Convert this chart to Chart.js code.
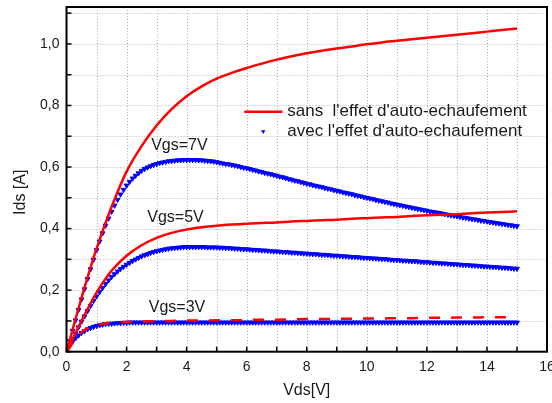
<!DOCTYPE html>
<html>
<head>
<meta charset="utf-8">
<script src="https://cdn.jsdelivr.net/npm/chart.js@4"></script>
<style>
  body { margin: 0; background: #fff; }
</style>
</head>
<body>
<canvas id="idsChart" width="552" height="403"></canvas>
<script>
// blue points (avec) every 0.1 V, red curves (sans) every 0.5 V
const avecStep = 0.1;
const sansStep = 0.5;

const avec7 = [
  0.000, 0.034, 0.068, 0.102, 0.136, 0.170, 0.203, 0.236, 0.268, 0.299,
  0.330, 0.358, 0.385, 0.410, 0.433, 0.455, 0.475, 0.494, 0.511, 0.526,
  0.540, 0.552, 0.563, 0.572, 0.580, 0.588, 0.594, 0.599, 0.603, 0.607,
  0.610, 0.613, 0.615, 0.617, 0.619, 0.620, 0.621, 0.622, 0.622, 0.623,
  0.623, 0.623, 0.623, 0.623, 0.622, 0.622, 0.621, 0.620, 0.619, 0.618,
  0.616, 0.614, 0.612, 0.610, 0.609, 0.607, 0.605, 0.603, 0.600, 0.598,
  0.596, 0.594, 0.591, 0.589, 0.586, 0.584, 0.581, 0.579, 0.577, 0.574,
  0.572, 0.569, 0.567, 0.564, 0.561, 0.559, 0.556, 0.554, 0.551, 0.549,
  0.546, 0.544, 0.541, 0.539, 0.537, 0.535, 0.532, 0.530, 0.528, 0.525,
  0.523, 0.521, 0.518, 0.516, 0.514, 0.512, 0.509, 0.507, 0.505, 0.502,
  0.500, 0.498, 0.496, 0.493, 0.491, 0.489, 0.487, 0.485, 0.482, 0.480,
  0.478, 0.476, 0.474, 0.472, 0.470, 0.468, 0.466, 0.464, 0.462, 0.460,
  0.458, 0.456, 0.454, 0.453, 0.451, 0.449, 0.447, 0.445, 0.443, 0.442,
  0.440, 0.438, 0.436, 0.435, 0.433, 0.431, 0.430, 0.428, 0.426, 0.425,
  0.423, 0.421, 0.420, 0.418, 0.417, 0.415, 0.414, 0.412, 0.411, 0.409,
  0.408
];

const avec5 = [
  0.000, 0.020, 0.040, 0.059, 0.079, 0.098, 0.115, 0.132, 0.149, 0.165,
  0.180, 0.194, 0.207, 0.220, 0.232, 0.243, 0.252, 0.261, 0.269, 0.276,
  0.283, 0.289, 0.295, 0.300, 0.305, 0.310, 0.314, 0.317, 0.321, 0.324,
  0.327, 0.329, 0.331, 0.333, 0.335, 0.336, 0.337, 0.338, 0.339, 0.340,
  0.340, 0.340, 0.340, 0.340, 0.340, 0.340, 0.340, 0.339, 0.339, 0.339,
  0.339, 0.338, 0.338, 0.337, 0.337, 0.336, 0.335, 0.335, 0.334, 0.333,
  0.333, 0.332, 0.331, 0.331, 0.330, 0.329, 0.329, 0.328, 0.327, 0.326,
  0.326, 0.325, 0.324, 0.324, 0.323, 0.322, 0.322, 0.321, 0.320, 0.319,
  0.319, 0.318, 0.317, 0.317, 0.316, 0.315, 0.315, 0.314, 0.313, 0.312,
  0.312, 0.311, 0.310, 0.310, 0.309, 0.308, 0.308, 0.307, 0.306, 0.305,
  0.305, 0.304, 0.303, 0.303, 0.302, 0.301, 0.301, 0.300, 0.299, 0.298,
  0.298, 0.297, 0.296, 0.296, 0.295, 0.294, 0.294, 0.293, 0.292, 0.291,
  0.291, 0.290, 0.289, 0.289, 0.288, 0.287, 0.287, 0.286, 0.285, 0.284,
  0.284, 0.283, 0.282, 0.282, 0.281, 0.280, 0.280, 0.279, 0.278, 0.277,
  0.277, 0.276, 0.275, 0.275, 0.274, 0.273, 0.273, 0.272, 0.271, 0.270,
  0.270
];

const avec3 = [
  0.000, 0.017, 0.032, 0.044, 0.053, 0.061, 0.067, 0.073, 0.077, 0.081,
  0.084, 0.086, 0.088, 0.090, 0.091, 0.091, 0.092, 0.093, 0.093, 0.094,
  0.094, 0.095, 0.095, 0.095, 0.095, 0.095, 0.095, 0.095, 0.095, 0.095,
  0.095, 0.095, 0.095, 0.095, 0.095, 0.095, 0.095, 0.095, 0.095, 0.095,
  0.095, 0.095, 0.095, 0.095, 0.095, 0.095, 0.095, 0.095, 0.095, 0.095,
  0.095, 0.095, 0.095, 0.095, 0.095, 0.095, 0.095, 0.095, 0.095, 0.095,
  0.095, 0.095, 0.095, 0.095, 0.095, 0.095, 0.095, 0.095, 0.095, 0.095,
  0.095, 0.095, 0.095, 0.095, 0.095, 0.095, 0.095, 0.095, 0.095, 0.095,
  0.095, 0.095, 0.095, 0.095, 0.095, 0.095, 0.095, 0.095, 0.095, 0.095,
  0.095, 0.095, 0.095, 0.095, 0.095, 0.095, 0.095, 0.095, 0.095, 0.095,
  0.095, 0.095, 0.095, 0.095, 0.095, 0.095, 0.095, 0.095, 0.095, 0.095,
  0.095, 0.095, 0.095, 0.095, 0.095, 0.095, 0.095, 0.095, 0.095, 0.095,
  0.095, 0.095, 0.095, 0.095, 0.095, 0.095, 0.095, 0.095, 0.095, 0.095,
  0.095, 0.095, 0.095, 0.095, 0.095, 0.095, 0.095, 0.095, 0.095, 0.095,
  0.095, 0.095, 0.095, 0.095, 0.095, 0.095, 0.095, 0.095, 0.095, 0.095,
  0.095
];

const sans7 = [
  0.000, 0.175, 0.335, 0.470, 0.585, 0.668, 0.735, 0.788, 0.830, 0.862,
  0.887, 0.906, 0.922, 0.936, 0.949, 0.960, 0.970, 0.978, 0.985, 0.992,
  0.999, 1.005, 1.010, 1.015, 1.020, 1.025, 1.030, 1.035, 1.040, 1.045,
  1.050
];
const sans5 = [
  0.000, 0.100, 0.192, 0.263, 0.312, 0.346, 0.370, 0.386, 0.397, 0.404,
  0.409, 0.413, 0.416, 0.418, 0.420, 0.423, 0.425, 0.427, 0.429, 0.432,
  0.434, 0.436, 0.438, 0.441, 0.443, 0.445, 0.447, 0.450, 0.452, 0.454,
  0.456
];
const sans3 = [
  0.000, 0.063, 0.086, 0.094, 0.097, 0.098, 0.099, 0.100, 0.101, 0.101,
  0.102, 0.102, 0.103, 0.104, 0.104, 0.105, 0.106, 0.106, 0.107, 0.107,
  0.108, 0.108, 0.109, 0.109, 0.110, 0.110, 0.111, 0.111, 0.112, 0.112,
  0.113
];

const vgsLabels = ['Vgs=7V', 'Vgs=5V', 'Vgs=3V'];
const vgsLabelX = [3.76, 3.63, 3.68];
const vgsLabelY = [0.670, 0.435, 0.142];

const legendTexts = ["sans  l'effet d'auto-echaufement", "avec l'effet d'auto-echaufement"];

const fontFamily = "'Liberation Sans', Arial, sans-serif";
const textColor = '#1a1a1a';

function toPoints(arr, step) {
  return arr.map((v, i) => ({ x: +(i * step).toFixed(2), y: v }));
}

function sansDataset(arr, dashed) {
  return {
    label: legendTexts[0],
    data: toPoints(arr, sansStep),
    showLine: true,
    borderColor: '#ff0000',
    borderWidth: 2.5,
    borderDash: dashed ? [11, 11] : [],
    pointRadius: 0,
    cubicInterpolationMode: 'monotone',
    order: 0
  };
}

function avecDataset(arr) {
  return {
    label: legendTexts[1],
    data: toPoints(arr, avecStep),
    showLine: false,
    pointStyle: 'triangle',
    rotation: 180,
    pointRadius: 2.8,
    pointBorderWidth: 1,
    pointBackgroundColor: '#0000ff',
    pointBorderColor: '#0000ff',
    order: 1
  };
}

const frame = {
  id: 'frame',
  beforeDatasetsDraw(chart) {
    const {ctx, chartArea: a, scales: {x, y}} = chart;
    ctx.save();
    ctx.strokeStyle = '#b0b0b0';
    ctx.lineWidth = 1;
    ctx.setLineDash([1, 2]);
    x.ticks.forEach((t) => {
      if (t.value <= x.min || t.value >= x.max) return;
      const px = Math.round(x.getPixelForValue(t.value)) + 0.5;
      ctx.beginPath();
      ctx.moveTo(px, a.top);
      ctx.lineTo(px, a.bottom);
      ctx.stroke();
    });
    y.ticks.forEach((t) => {
      if (t.value <= y.min || t.value >= y.max) return;
      const py = Math.round(y.getPixelForValue(t.value)) + 0.5;
      ctx.beginPath();
      ctx.moveTo(a.left, py);
      ctx.lineTo(a.right, py);
      ctx.stroke();
    });
    ctx.restore();
  },
  afterDraw(chart) {
    const {ctx, chartArea: a, scales: {x, y}} = chart;
    ctx.save();
    ctx.strokeStyle = '#000';
    ctx.lineWidth = 1.5;
    // inward tick marks
    x.ticks.forEach((t) => {
      const px = x.getPixelForValue(t.value);
      ctx.beginPath();
      ctx.moveTo(px, a.bottom);
      ctx.lineTo(px, a.bottom - 5);
      ctx.stroke();
    });
    y.ticks.forEach((t) => {
      const py = y.getPixelForValue(t.value);
      ctx.beginPath();
      ctx.moveTo(a.left, py);
      ctx.lineTo(a.left + 5, py);
      ctx.stroke();
    });
    ctx.lineWidth = 2;
    ctx.strokeRect(a.left, a.top, a.right - a.left, a.bottom - a.top);

    // Vgs annotations
    ctx.fillStyle = textColor;
    ctx.font = '16px ' + fontFamily;
    ctx.textAlign = 'center';
    ctx.textBaseline = 'middle';
    vgsLabels.forEach((txt, i) => {
      ctx.fillText(txt, x.getPixelForValue(vgsLabelX[i]), y.getPixelForValue(vgsLabelY[i]));
    });

    // legend inside the plot
    const row1 = y.getPixelForValue(0.780);
    const row2 = y.getPixelForValue(0.715);
    const textX = x.getPixelForValue(7.35);
    ctx.strokeStyle = '#ff0000';
    ctx.lineWidth = 2.5;
    ctx.beginPath();
    ctx.moveTo(x.getPixelForValue(5.92), row1);
    ctx.lineTo(x.getPixelForValue(7.19), row1);
    ctx.stroke();
    const mx = x.getPixelForValue(6.55);
    ctx.fillStyle = '#0000ff';
    ctx.beginPath();
    ctx.moveTo(mx - 2.2, row2 - 1.3);
    ctx.lineTo(mx + 2.2, row2 - 1.3);
    ctx.lineTo(mx, row2 + 2.4);
    ctx.closePath();
    ctx.fill();
    ctx.fillStyle = textColor;
    ctx.font = '17px ' + fontFamily;
    ctx.textAlign = 'left';
    ctx.fillText(legendTexts[0], textX, row1);
    ctx.fillText(legendTexts[1], textX, row2);

    // axis titles
    ctx.font = '16px ' + fontFamily;
    ctx.textAlign = 'center';
    ctx.fillText('Vds[V]', (a.left + a.right) / 2, 391);
    ctx.translate(21, y.getPixelForValue(0.518));
    ctx.rotate(-Math.PI / 2);
    ctx.fillText('Ids [A]', 0, 0);
    ctx.restore();
  }
};

new Chart(document.getElementById('idsChart'), {
  type: 'scatter',
  data: {
    datasets: [
      sansDataset(sans7, false),
      sansDataset(sans5, false),
      sansDataset(sans3, true),
      avecDataset(avec7),
      avecDataset(avec5),
      avecDataset(avec3)
    ]
  },
  options: {
    responsive: false,
    animation: false,
    layout: {
      padding: { top: 7, right: 3.5, left: 0, bottom: 0 }
    },
    plugins: {
      legend: { display: false },
      tooltip: { enabled: false }
    },
    scales: {
      x: {
        type: 'linear',
        min: 0,
        max: 16,
        grid: { display: false, drawTicks: false },
        border: { display: false },
        ticks: {
          stepSize: 1,
          padding: 7,
          autoSkip: false,
          maxRotation: 0,
          color: textColor,
          font: { family: fontFamily, size: 14 },
          callback: (val) => (val % 2 === 0 ? val : '')
        },
        afterFit: (scale) => {
          scale.height = 51.3;
          scale.paddingLeft = 0;
          scale.paddingRight = 0;
        }
      },
      y: {
        type: 'linear',
        min: 0,
        max: 1.12,
        grid: { display: false, drawTicks: false },
        border: { display: false },
        ticks: {
          stepSize: 0.1,
          includeBounds: false,
          padding: 7,
          autoSkip: false,
          color: textColor,
          font: { family: fontFamily, size: 14 },
          callback: (val) => (Math.round(val * 10) % 2 === 0 ? val.toFixed(1).replace('.', ',') : '')
        },
        afterFit: (scale) => {
          scale.width = 66.5;
          scale.paddingTop = 0;
          scale.paddingBottom = 0;
        }
      }
    }
  },
  plugins: [frame]
});
</script>
</body>
</html>
